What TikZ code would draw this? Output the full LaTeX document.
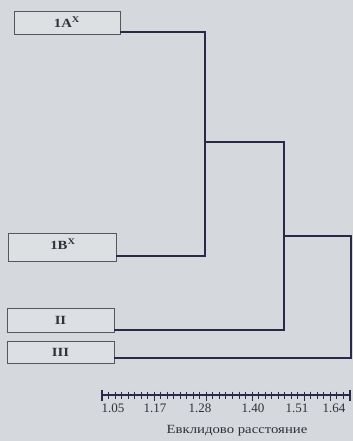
\documentclass[tikz,border=0pt]{standalone}
\usepackage{graphicx}
\usepackage{fontspec}
\setmainfont{Liberation Serif}
\definecolor{bg}{HTML}{D5D9DD}
\definecolor{boxfill}{HTML}{DDE0E3}
\definecolor{boxgray}{HTML}{55575C}
\definecolor{linecol}{HTML}{2A2A48}
\definecolor{txt}{HTML}{303038}
\newcommand{\wide}[1]{\scalebox{1.18}[1]{#1}}
\begin{document}
\begin{tikzpicture}[x=1pt,y=-1pt,
  box/.style={draw=boxgray, line width=0.7pt, fill=boxfill, inner sep=0pt,
    text=txt, font=\bfseries\fontsize{12.5}{14}\selectfont},
  lbl/.style={text=txt, inner sep=0pt, font=\bfseries\fontsize{12.5}{14}\selectfont},
  link/.style={draw=linecol, line width=1.7pt, line join=miter},
  num/.style={text=txt, font=\fontsize{13}{15}\selectfont, inner sep=0pt},
  tick/.style={draw=linecol, line width=1pt}]
\fill[bg] (0,0) rectangle (353,441);
\useasboundingbox (0,0) rectangle (353,441);
% boxes
\node[box, minimum width=106pt, minimum height=23pt] (A) at (67,22.5) {};
\node[lbl] (tA) at (67,22) {\wide{1A\textsuperscript{X}}};
\node[box, minimum width=108pt, minimum height=28pt] (B) at (62,247) {};
\node[lbl] (tB) at (63,244) {\wide{1B\textsuperscript{X}}};
\node[box, minimum width=107pt, minimum height=24pt] (C) at (60.5,320) {\wide{II}};
\node[box, minimum width=107pt, minimum height=22pt] (D) at (60.5,352) {\wide{III}};
% joints
\coordinate (a1) at (205,32);
\coordinate (b1) at (205,256);
\coordinate (ab) at (205,142);
\coordinate (ab2) at (284,142);
\coordinate (c1) at (284,330);
\coordinate (abc) at (284,236);
\coordinate (abc2) at (351,236);
\coordinate (d1) at (351,358);
% connectors
\draw[link] (A.south east |- a1) -- (a1) -- (b1) -- (B.south east |- b1);
\draw[link] (ab) -- (ab2) -- (c1) -- (C.south east |- c1);
\draw[link] (abc) -- (abc2) -- (d1) -- (D.south east |- d1);
% axis
\draw[draw=linecol, line width=1.3pt] (102,395) -- (350,395);
\foreach \i in {0,...,38} {
  \draw[tick] ({102+\i*6.526},391.5) -- ({102+\i*6.526},398.5);
}
\foreach \i in {8,16,23,31,35} {
  \draw[tick] ({102+\i*6.526},391.5) -- ({102+\i*6.526},401);
}
\draw[tick, line width=1.3pt] (102,389.5) -- (102,401);
\draw[tick, line width=1.3pt] (350,389.5) -- (350,401);
\node[num] (n1) at (113,408) {1.05};
\node[num] (n2) at (155,408) {1.17};
\node[num] (n3) at (200,408) {1.28};
\node[num] (n4) at (253,408) {1.40};
\node[num] (n5) at (297,408) {1.51};
\node[num] (n6) at (334,408) {1.64};
\node[num, font=\fontsize{12.5}{14}\selectfont] (lab) at (237,431) {\wide{Евклидово расстояние}};
\end{tikzpicture}
\end{document}
